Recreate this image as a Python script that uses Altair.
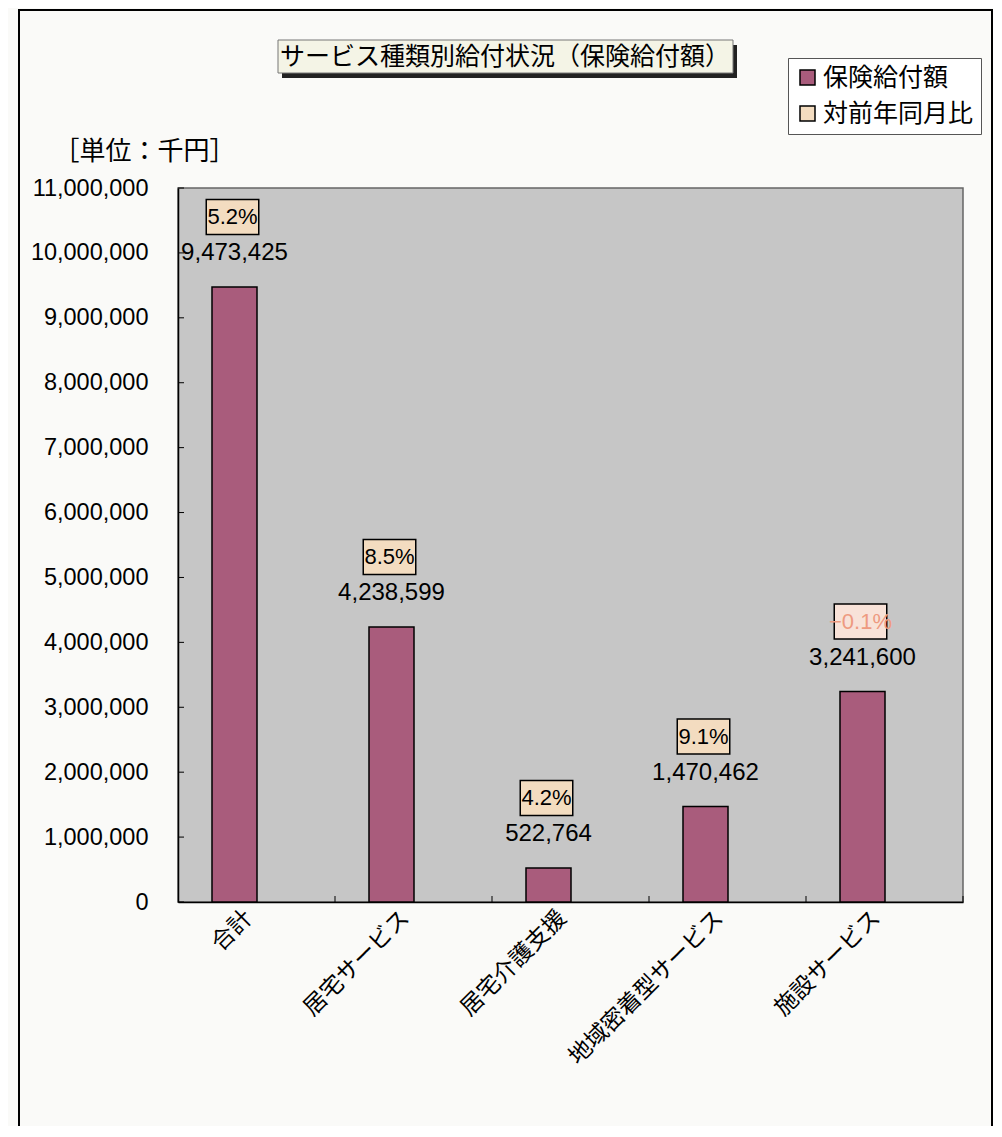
import altair as alt
import pandas as pd

# ---- data ----
categories = ["合計", "居宅サービス", "居宅介護支援", "地域密着型サービス", "施設サービス"]
benefits = [9473425, 4238599, 522764, 1470462, 3241600]   # 保険給付額 (千円)
yoy_rates = [5.2, 8.5, 4.2, 9.1, -0.1]                    # 対前年同月比 (%)
y_ticks = [0, 1000000, 2000000, 3000000, 4000000, 5000000,
           6000000, 7000000, 8000000, 9000000, 10000000, 11000000]
series_names = ["保険給付額", "対前年同月比"]
chart_title = "サービス種類別給付状況（保険給付額）"
unit_title = "［単位：千円］"

df = pd.DataFrame({"category": categories, "benefit": benefits,
                   "rate": yoy_rates, "series": series_names[0]})
ticks_df = pd.DataFrame({"benefit": y_ticks})
one = pd.DataFrame({"t": [chart_title]})

JP = "Noto Sans CJK JP"
NUM = "Liberation Sans"
MAUVE = "#a95c7c"
PEACH = "#f3dcc0"

W, H = 785, 714
BAND = W / len(categories)

x_axis = alt.Axis(labelAngle=-45, labelAlign="right", labelBaseline="middle",
                  labelFont=JP, labelFontSize=23, labelColor="black",
                  labelPadding=12, labelOffset=-8, labelLimit=0, ticks=False,
                  domainColor="black", domainWidth=1.5)
y_axis = alt.Axis(values=y_ticks, format=",d", title=unit_title, titleAngle=0,
                  titleX=-125, titleY=-37, titleAlign="left",
                  titleBaseline="middle", titleFont=JP, titleFontSize=26,
                  titleFontWeight="normal", titleColor="black",
                  labelFont=NUM, labelFontSize=23.5, labelColor="black",
                  labelPadding=30, ticks=False, grid=False,
                  domainColor="black", domainWidth=1.5)
x_enc = alt.X("category:N", sort=categories, title=None,
              scale=alt.Scale(paddingInner=0, paddingOuter=0), axis=x_axis)
y_enc = alt.Y("benefit:Q", scale=alt.Scale(domain=[0, 11000000], nice=False),
              axis=y_axis)

# outer frame of the whole chart
frame = alt.Chart(one).mark_rect(fill=None, stroke="black", strokeWidth=2).encode(
    x=alt.value(-159), x2=alt.value(814), y=alt.value(-178), y2=alt.value(960))

# title box with shadow
t_shadow = alt.Chart(one).mark_rect(fill="#222222").encode(
    x=alt.value(104), x2=alt.value(559), y=alt.value(-143), y2=alt.value(-110))
t_box = alt.Chart(one).mark_rect(fill="#f4f4e6", stroke="#777777", strokeWidth=1).encode(
    x=alt.value(100), x2=alt.value(555), y=alt.value(-148), y2=alt.value(-115))
t_text = alt.Chart(one).mark_text(font=JP, fontSize=25, color="black",
                                  baseline="middle", align="center").encode(
    x=alt.value(327), y=alt.value(-131), text="t:N")

bars = alt.Chart(df).mark_bar(width=45, xOffset=-22, stroke="black",
                              strokeWidth=1.5).encode(
    x=x_enc, y=y_enc,
    color=alt.Color("series:N",
                    scale=alt.Scale(domain=series_names, range=[MAUVE, PEACH]),
                    legend=alt.Legend(title=None, orient="none", legendX=610,
                                      legendY=-130, direction="vertical",
                                      symbolType="square", symbolSize=225,
                                      symbolStrokeColor="black",
                                      symbolStrokeWidth=1.5,
                                      labelFont=JP, labelFontSize=25,
                                      labelColor="black", strokeColor="#555555",
                                      fillColor="white", padding=7,
                                      rowPadding=10, labelOffset=3)))

yticks = alt.Chart(ticks_df).mark_rule(color="black", strokeWidth=1).encode(
    y=y_enc, x=alt.value(0), x2=alt.value(6))

xticks = alt.Chart(df).mark_rule(color="black", strokeWidth=1,
                                 xOffset=BAND / 2).encode(
    x=x_enc, y=alt.value(H), y2=alt.value(H - 6))

values = alt.Chart(df).mark_text(font=NUM, fontSize=24, color="black",
                                 baseline="middle", yOffset=-34,
                                 xOffset=-22).encode(
    x=x_enc, y=y_enc, text=alt.Text("benefit:Q", format=",d"))

boxes = alt.Chart(df).mark_point(shape="M-1.5,-1H1.5V1H-1.5Z", size=1225,
                                 filled=True, opacity=1, stroke="black",
                                 strokeWidth=1.5, yOffset=-70,
                                 xOffset=-24).encode(
    x=x_enc, y=y_enc,
    fill=alt.condition("datum.rate < 0", alt.value("#f8e2d8"), alt.value(PEACH)))

pct = alt.Chart(df).transform_calculate(
    lbl="format(datum.rate, '.1f') + '%'"
).mark_text(font=NUM, fontSize=22, baseline="middle", yOffset=-70,
            xOffset=-24).encode(
    x=x_enc, y=y_enc, text="lbl:N",
    color=alt.condition("datum.rate < 0", alt.value("#ee9a80"), alt.value("black")))

chart = alt.layer(frame, t_shadow, t_box, t_text, bars, yticks, xticks,
                  values, boxes, pct).properties(
    width=W, height=H,
    autosize=alt.AutoSizeParams(type="none"),
    padding={"left": 170, "top": 180, "right": 30, "bottom": 224},
    background="#fafaf8",
).configure_view(fill="#c6c6c6", stroke="#666666", strokeWidth=1.5)

chart.save("out.html", embed_options={"renderer": "svg", "actions": False})
